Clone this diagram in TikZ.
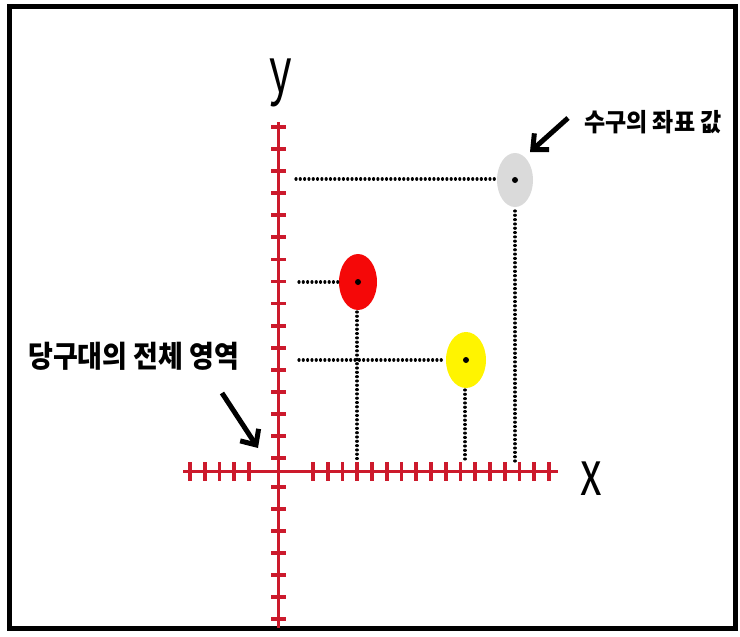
\documentclass[tikz,border=0pt]{standalone}
\usepackage{fontspec}
\newfontfamily\kr{Noto Sans CJK KR}
\usetikzlibrary{arrows.meta,shapes.geometric}
\definecolor{axisred}{RGB}{204,26,44}
\definecolor{ballred}{RGB}{245,8,8}
\definecolor{ballgray}{RGB}{218,218,218}
\definecolor{ballyellow}{RGB}{255,244,0}
\tikzset{
  axisline/.style={draw=axisred,line width=3pt},
  tickmark/.style={draw=axisred,line width=3.8pt},
  guide/.style={draw=black,line width=3.2pt,line cap=round,dash pattern=on 0.01pt off 4.3pt},
  ball/.style={ellipse,draw=none,minimum width=38pt,minimum height=56pt,inner sep=0pt},
  pointer/.style={draw=black,line width=5pt,-{Straight Barb[length=12pt,width=22pt]}},
  axislabel/.style={font=\kr\fontsize{62}{62}\selectfont,xscale=0.7,inner sep=0pt},
  note/.style={font=\kr\bfseries\fontsize{25}{25}\selectfont,inner sep=0pt},
}
\begin{document}
\begin{tikzpicture}[x=1pt,y=-1pt]
\useasboundingbox (0,0) rectangle (740,637);
\fill[white] (0,0) rectangle (740,637);
\draw[line width=5pt] (9,6) rectangle (735,628);
% axes
\coordinate (ytop) at (278,122);
\coordinate (ybot) at (278,628);
\coordinate (xleft) at (183,471);
\coordinate (xright) at (558,471);
\draw[axisline] (ytop) -- (ybot);
\draw[axisline] (xleft) -- (xright);
% y ticks
\foreach \k in {0,...,15} {\draw[tickmark] (271,127+22.07*\k) -- (286,127+22.07*\k);}
\foreach \k in {0,...,6} {\draw[tickmark] (271,487+22*\k) -- (286,487+22*\k);}
% x ticks
\foreach \k in {0,...,4} {\draw[tickmark] (190+14.75*\k,462) -- (190+14.75*\k,481);}
\foreach \k in {0,...,16} {\draw[tickmark] (313+14.75*\k,462) -- (313+14.75*\k,481);}
% labels
\node[axislabel,anchor=base] (ylab) at (281,92) {y};
\node[axislabel,anchor=base] (xlab) at (591,495) {x};
% balls
\node[ball,fill=ballgray,minimum width=36pt,minimum height=54pt] (cue) at (515,180) {};
\node[ball,fill=ballred] (redb) at (358,282) {};
\node[ball,fill=ballyellow,minimum width=40pt] (yelb) at (466,360) {};
\foreach \b in {cue,redb,yelb} {\fill (\b.center) circle (3pt);}
% guides
\coordinate (cueY) at (296,179);
\coordinate (cueX) at (515,462);
\coordinate (redY) at (299,282);
\coordinate (redX) at (357,460);
\coordinate (yelY) at (299,360);
\coordinate (yelX) at (465,460);
\draw[guide] (cueY) -- (495,179);
\draw[guide] (515,211) -- (cueX);
\draw[guide] (redY) -- (338,282);
\draw[guide] (357,312) -- (redX);
\draw[guide] (yelY) -- (445,360);
\draw[guide] (465,390) -- (yelX);
% notes
\node[note,anchor=west,xscale=0.92] (cuenote) at (584,122) {수구의 좌표 값};
\node[note,anchor=west,font=\kr\bfseries\fontsize{30}{30}\selectfont,xscale=0.9] (tablenote) at (28,356) {당구대의 전체 영역};
\coordinate (a1t) at (568,118);
\coordinate (a1h) at (530,152);
\coordinate (a2t) at (222,393);
\coordinate (a2h) at (258,448);
\draw[pointer] (a1t) -- (a1h);
\draw[pointer] (a2t) -- (a2h);
\end{tikzpicture}
\end{document}
